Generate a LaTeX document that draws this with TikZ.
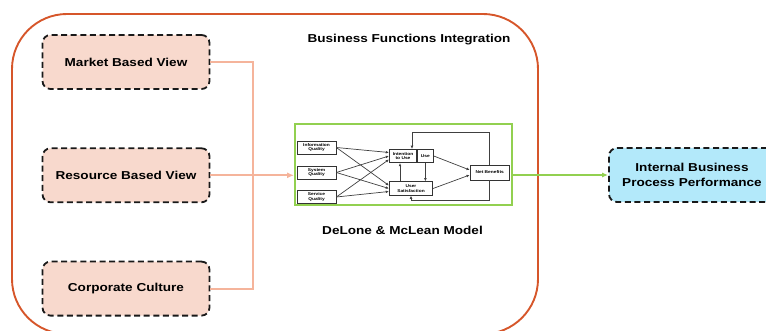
\documentclass[tikz,border=0pt]{standalone}
\usepackage{fontspec}
\setsansfont{Liberation Sans}[FakeStretch=1.18]
\usetikzlibrary{arrows.meta, positioning, calc}

\definecolor{frameorange}{HTML}{D6562A}
\definecolor{viewfill}{HTML}{F8D9CD}
\definecolor{feedline}{HTML}{F5B49B}
\definecolor{modelgreen}{HTML}{92D050}
\definecolor{outfill}{HTML}{B3E9FA}

\begin{document}
\begin{tikzpicture}[
  x=1pt, y=-1pt,
  font=\sffamily\bfseries,
  >=Latex,
  node distance=57.5pt,
  frame/.style={
    draw=frameorange,
    rounded corners=55pt,
    line width=1.9pt,
    minimum width=526pt,
    minimum height=320pt
  },
  view/.style={
    draw=black!90,
    dash pattern=on 6pt off 3.6pt,
    rounded corners=8pt,
    fill=viewfill,
    line width=1.8pt,
    align=center,
    minimum width=167pt,
    minimum height=54pt,
    font=\fontsize{11.5}{14.5}\selectfont\sffamily\bfseries
  },
  outbox/.style={view, fill=outfill, minimum width=166pt},
  heading/.style={font=\fontsize{11.5}{14}\selectfont\sffamily\bfseries},
  dm/.style={
    draw=black!80,
    fill=white,
    line width=0.7pt,
    align=center,
    inner sep=0pt,
    font=\fontsize{4.1}{4.7}\selectfont\sffamily\bfseries
  },
  dmarrow/.style={-{Latex[length=3.2pt,width=2.8pt]}, draw=black!75, line width=0.7pt},
  feed/.style={draw=feedline, line width=1.8pt},
  outarrow/.style={-{Latex[length=6pt,width=5pt]}, draw=modelgreen, line width=1.4pt}
]
\useasboundingbox (0,0) rectangle (766,331);
\clip (0,0) rectangle (766,331);

% 外框
\node[frame] (integration) at (275,174) {};
\node[heading] (bfititle) at (409,40) {Business Functions Integration};

% 左侧三个视角
\node[view] (market) at (126,62) {Market Based View};
\node[view, below=of market] (resource) {Resource Based View};
\node[view, below=of resource] (culture) {Corporate Culture};

% DeLone & McLean 模型
\node[draw=modelgreen, line width=1.9pt, minimum width=217pt, minimum height=81pt] (model) at (403.5,164.5) {};
\node[heading] (modeltitle) at (402.5,230) {DeLone \& McLean Model};

\node[dm, minimum width=39pt, minimum height=13pt] (infoq) at (316.5,147.5) {Information\\Quality};
\node[dm, minimum width=39pt, minimum height=13pt] (sysq) at (316.5,172.5) {System\\Quality};
\node[dm, minimum width=39pt, minimum height=13pt] (servq) at (316.5,197) {Service\\Quality};
\node[dm, minimum width=27.4pt, minimum height=13.4pt] (intent) at (403,156) {Intention\\to Use};
\node[dm, minimum width=16pt, minimum height=13.4pt, right=0pt of intent] (use) {Use};
\node[dm, minimum width=43.4pt, minimum height=13.6pt] (usat) at (411,188.5) {User\\Satisfaction};
\node[dm, minimum width=39.3pt, minimum height=15pt] (netb) at (489.7,172.5) {Net Benefits};

\foreach \src/\a/\b in {infoq/3.5/3, sysq/0/0, servq/-3.5/-3} {
  \draw[dmarrow] (\src.east) -- ([yshift=\a pt]intent.west);
  \draw[dmarrow] (\src.east) -- ([yshift=\b pt]usat.west);
}
\draw[dmarrow] ([xshift=-3pt]intent.south |- usat.north) -- ([xshift=-3pt]intent.south);
\draw[dmarrow] (use.south) -- (use.south |- usat.north);
\draw[dmarrow] (use.east) -- ([yshift=2.5pt]netb.west);
\draw[dmarrow] (usat.east) -- ([yshift=-2.5pt]netb.west);
\draw[dmarrow] (netb.north) -- ++(0,-32) -| ([xshift=9pt]intent.north);
\draw[dmarrow] (netb.south) -- ++(0,20.5) -| (usat.south);

% 右侧结果
\node[outbox] (ibpp) at (692,175) {Internal Business\\Process Performance};

% 连线
\coordinate (merge) at ($(resource.east)+(42.5,0)$);
\draw[feed] (market.east) -| (merge);
\draw[feed] (culture.east) -| (merge);
\draw[feed, -{Latex[length=7pt,width=6pt]}] (resource.east) -- (resource.east -| model.west);
\draw[outarrow] (model.east |- ibpp.west) -- (ibpp.west);

\end{tikzpicture}
\end{document}
